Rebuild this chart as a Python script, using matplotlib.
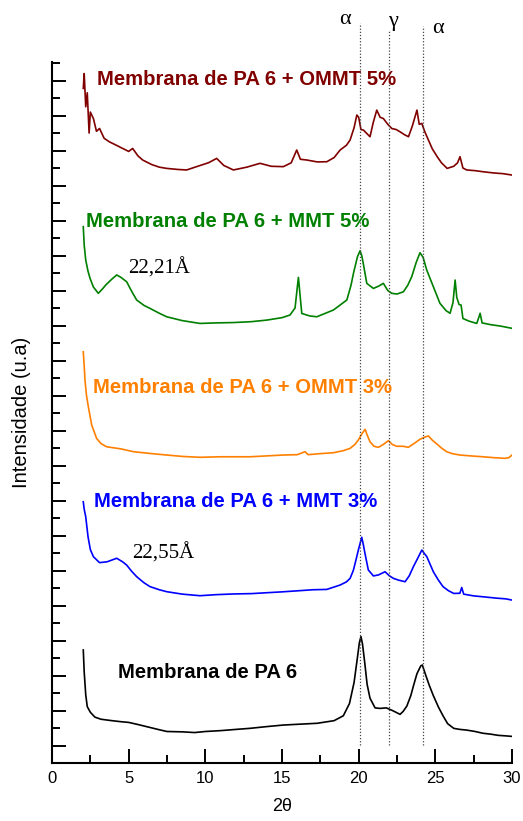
import matplotlib
matplotlib.use("Agg")
import matplotlib.pyplot as plt
from matplotlib.ticker import FixedLocator, MultipleLocator

plt.rcParams['font.family'] = ['Liberation Sans', 'DejaVu Sans']

# ---- data (2theta, stacked intensity in arbitrary units) ----
pa6_x = [2.04, 2.1, 2.2, 2.3, 2.5, 2.8, 3.2, 3.9, 4.5, 5.0, 5.6, 6.3, 7.0, 7.5, 8.5, 9.3, 10.0, 11.0, 12.0, 12.9,
         14.0, 15.1, 16.2, 17.3, 18.4, 19.0, 19.4, 19.7, 19.9, 20.05, 20.15, 20.25, 20.4, 20.55, 20.74, 21.07,
         21.4, 21.8, 22.2, 22.7, 22.9, 23.14, 23.4, 23.57, 23.8, 24.05, 24.15, 24.4, 24.6, 24.87, 25.2, 25.5,
         25.8, 26.2, 26.6, 27.05, 27.6, 28.1, 28.6, 29.1, 29.6, 30.0]
pa6_y = [6.46, 5.2, 3.9, 3.22, 2.9, 2.62, 2.5, 2.42, 2.36, 2.32, 2.2, 2.05, 1.9, 1.8, 1.78, 1.74, 1.8, 1.85, 1.92,
         1.98, 2.08, 2.17, 2.22, 2.27, 2.42, 2.7, 3.4, 4.6, 5.9, 6.9, 7.22, 6.8, 5.7, 4.5, 3.7, 3.15, 3.12, 3.15,
         3.0, 2.78, 2.95, 3.25, 3.85, 4.4, 5.1, 5.55, 5.6, 4.95, 4.45, 3.85, 3.2, 2.7, 2.25, 1.98, 1.92, 1.88,
         1.8, 1.7, 1.65, 1.58, 1.55, 1.52]

mmt3_x = [2.04, 2.1, 2.2, 2.35, 2.5, 2.7, 3.1, 3.6, 4.22, 4.6, 4.87, 5.2, 5.52, 6.0, 6.39, 7.0, 7.48, 8.5, 9.65,
          10.7, 11.83, 13.0, 14.0, 15.0, 16.18, 17.0, 17.92, 18.79, 19.2, 19.44, 19.65, 19.77, 19.98, 20.2, 20.3,
          20.41, 20.63, 20.96, 21.3, 21.72, 22.0, 22.27, 22.6, 23.03, 23.3, 23.57, 23.85, 24.12, 24.3, 24.44,
          24.87, 25.2, 25.5, 25.85, 26.2, 26.6, 26.72, 26.85, 27.5, 28.1, 29.0, 29.6, 30.0]
mmt3_y = [14.93, 14.5, 14.07, 12.93, 12.2, 11.79, 11.45, 11.5, 11.7, 11.5, 11.31, 10.95, 10.65, 10.3, 10.08, 9.9,
          9.79, 9.65, 9.56, 9.62, 9.66, 9.68, 9.73, 9.78, 9.85, 9.9, 9.92, 10.17, 10.35, 10.55, 11.0, 11.41,
          12.17, 12.9, 12.5, 11.98, 11.03, 10.69, 10.75, 10.93, 10.7, 10.55, 10.45, 10.36, 10.7, 11.22, 11.7,
          12.17, 11.95, 11.8, 10.93, 10.45, 10.08, 9.85, 9.69, 9.7, 10.03, 9.65, 9.55, 9.5, 9.42, 9.38, 9.31]

ommt3_x = [2.04, 2.1, 2.15, 2.25, 2.37, 2.59, 2.91, 3.2, 3.57, 4.5, 5.31, 6.5, 7.48, 8.5, 9.65, 11.0, 12.92, 14.0,
           15.09, 16.0, 16.5, 16.7, 17.5, 18.35, 19.0, 19.44, 19.75, 19.98, 20.2, 20.42, 20.55, 20.74, 21.0,
           21.29, 21.6, 21.94, 22.2, 22.48, 22.9, 23.24, 23.6, 24.0, 24.3, 24.55, 24.8, 25.1, 25.4, 25.74, 26.1,
           26.6, 27.3, 28.1, 28.8, 29.55, 29.8, 30.0]
ommt3_y = [23.5, 22.7, 21.89, 21.0, 20.36, 19.31, 18.55, 18.25, 18.07, 17.95, 17.79, 17.68, 17.6, 17.52, 17.47,
           17.5, 17.5, 17.55, 17.6, 17.62, 17.79, 17.62, 17.68, 17.73, 17.85, 17.98, 18.2, 18.46, 18.8, 19.07,
           18.75, 18.36, 18.1, 18.04, 18.2, 18.42, 18.2, 18.1, 18.1, 18.04, 18.25, 18.5, 18.62, 18.69, 18.45,
           18.23, 18.0, 17.79, 17.68, 17.6, 17.55, 17.5, 17.45, 17.41, 17.45, 17.6]

mmt5_x = [2.04, 2.1, 2.2, 2.35, 2.48, 2.7, 3.02, 3.3, 3.5, 3.9, 4.22, 4.5, 4.87, 5.2, 5.52, 6.0, 6.39, 7.0, 7.48,
          8.5, 9.65, 10.7, 11.83, 13.0, 14.0, 15.0, 15.52, 15.85, 16.0, 16.07, 16.15, 16.29, 16.8, 17.27, 18.36,
          19.23, 19.5, 19.66, 19.92, 20.09, 20.2, 20.31, 20.53, 20.96, 21.3, 21.61, 21.9, 22.16, 22.5, 22.92,
          23.2, 23.46, 23.75, 24.0, 24.2, 24.44, 24.87, 25.3, 25.7, 25.96, 26.15, 26.29, 26.4, 26.55, 26.68,
          26.8, 27.2, 27.7, 27.85, 27.92, 28.05, 28.6, 29.24, 30.0]
mmt5_y = [30.65, 29.6, 28.74, 28.1, 27.7, 27.2, 26.84, 27.1, 27.31, 27.65, 27.89, 27.75, 27.5, 26.95, 26.46, 26.15,
          25.98, 25.7, 25.5, 25.28, 25.12, 25.15, 25.17, 25.22, 25.31, 25.45, 25.6, 26.0, 27.2, 27.75, 27.0,
          25.69, 25.55, 25.5, 25.89, 26.46, 27.3, 27.98, 28.93, 29.27, 29.0, 28.5, 27.41, 27.12, 27.25, 27.41,
          27.0, 26.84, 26.8, 26.93, 27.3, 27.79, 28.6, 29.16, 28.9, 28.17, 27.22, 26.27, 25.85, 25.7, 26.3, 27.6,
          26.6, 26.2, 26.17, 25.4, 25.25, 25.12, 25.5, 25.7, 25.15, 25.05, 24.97, 24.84]

ommt5_x = [2.04, 2.1, 2.2, 2.3, 2.42, 2.5, 2.7, 2.9, 3.1, 3.4, 3.74, 4.2, 4.61, 5.0, 5.26, 5.6, 5.91, 6.5, 7.0,
           7.48, 8.2, 8.78, 9.5, 10.2, 10.74, 11.2, 11.83, 12.7, 13.57, 14.3, 15.09, 15.6, 15.96, 16.2, 16.61,
           17.3, 17.92, 18.4, 18.79, 19.2, 19.44, 19.7, 19.88, 20.0, 20.15, 20.31, 20.5, 20.74, 20.95, 21.18,
           21.4, 21.61, 21.9, 22.16, 22.45, 22.7, 23.0, 23.25, 23.5, 23.8, 23.95, 24.12, 24.3, 24.55, 24.8, 25.12,
           25.4, 25.77, 26.2, 26.45, 26.61, 26.8, 27.05, 27.6, 28.1, 28.8, 29.4, 30.0]
ommt5_y = [38.55, 39.4, 37.5, 38.3, 36.0, 37.2, 36.83, 36.1, 36.26, 35.7, 35.5, 35.3, 35.12, 34.95, 35.12, 34.7,
           34.46, 34.2, 34.05, 33.98, 33.92, 33.89, 34.1, 34.3, 34.55, 34.15, 33.89, 34.05, 34.27, 34.1, 34.08,
           34.3, 35.03, 34.5, 34.46, 34.35, 34.36, 34.6, 35.03, 35.3, 35.6, 36.3, 37.03, 36.9, 36.2, 36.17, 36.0,
           35.79, 36.6, 37.31, 36.9, 36.83, 36.5, 36.26, 36.2, 36.07, 35.9, 35.79, 36.4, 37.31, 36.5, 36.55, 36.1,
           35.6, 35.1, 34.65, 34.3, 33.98, 34.1, 34.3, 34.65, 34.0, 33.89, 33.85, 33.79, 33.72, 33.68, 33.6]

series_labels = ["Membrana de PA 6", "Membrana de PA 6 + MMT 3%", "Membrana de PA 6 + OMMT 3%",
                 "Membrana de PA 6 + MMT 5%", "Membrana de PA 6 + OMMT 5%"]
series_colors = ["#000000", "#0000ff", "#ff8000", "#008000", "#800000"]
label_pos = [(4.3, 5.2), (2.74, 14.93), (2.69, 21.45), (2.22, 30.93), (2.93, 39.07)]

d_spacing_labels = ["22,55Å", "22,21Å"]
d_spacing_pos = [(5.2, 12.0), (4.96, 28.27)]

phase_lines_x = [20.1, 22.0, 24.2]
phase_labels = ["α", "γ", "α"]
phase_label_pos = [(19.11, 42.5), (22.24, 42.35), (25.2, 42.0)]
phase_line_tops = [42.3, 41.85, 42.1]

x_ticks = [0, 5, 10, 15, 20, 25, 30]

# ---- figure ----
fig = plt.figure(figsize=(5.23, 8.21), dpi=100)
ax = fig.add_axes([52/523, 1-763/821, 460/523, 701/821])

data = [(pa6_x, pa6_y), (mmt3_x, mmt3_y), (ommt3_x, ommt3_y), (mmt5_x, mmt5_y), (ommt5_x, ommt5_y)]
for (xs, ys), lab, col, (lx, ly) in zip(data, series_labels, series_colors, label_pos):
    ax.plot(xs, ys, color=col, lw=1.2)
    ax.text(lx, ly, lab, color=col, fontsize=14.6, fontweight='bold', ha='left', va='center')

for lab, (lx, ly) in zip(d_spacing_labels, d_spacing_pos):
    ax.text(lx, ly, lab, fontsize=15, family=['Liberation Serif', 'DejaVu Serif'], ha='left', va='center')

for xv, top in zip(phase_lines_x, phase_line_tops):
    ax.plot([xv, xv], [1.03, top], ls=(0, (1, 1.5)), color='#444444', lw=0.9, clip_on=False)
for lab, (lx, ly) in zip(phase_labels, phase_label_pos):
    ax.text(lx, ly, lab, fontsize=16, family=['Liberation Serif', 'DejaVu Serif'], ha='center', va='center',
            clip_on=False)

ax.set_xlim(0, 30)
ax.set_ylim(0, 40.06)
ax.xaxis.set_major_locator(FixedLocator(x_ticks))
ax.xaxis.set_minor_locator(MultipleLocator(2.5))
ax.yaxis.set_major_locator(FixedLocator([1 + 2*i for i in range(20)]))
ax.yaxis.set_minor_locator(FixedLocator([2*i for i in range(21)]))
ax.set_yticklabels([])
ax.tick_params(which='both', direction='in', width=1.4)
ax.tick_params(which='major', length=10)
ax.tick_params(which='minor', length=6)
ax.tick_params(axis='x', labelsize=12, pad=6)
for s in ['top', 'right']:
    ax.spines[s].set_visible(False)
for s in ['left', 'bottom']:
    ax.spines[s].set_linewidth(1.5)

fig.text(282/523, 1-806/821, "2θ", fontsize=13, ha='center', va='center')
fig.text(22/523, 1-412/821, "Intensidade (u.a)", fontsize=14.5, rotation=90, ha='center', va='center')

fig.savefig("out.png", dpi=100)
